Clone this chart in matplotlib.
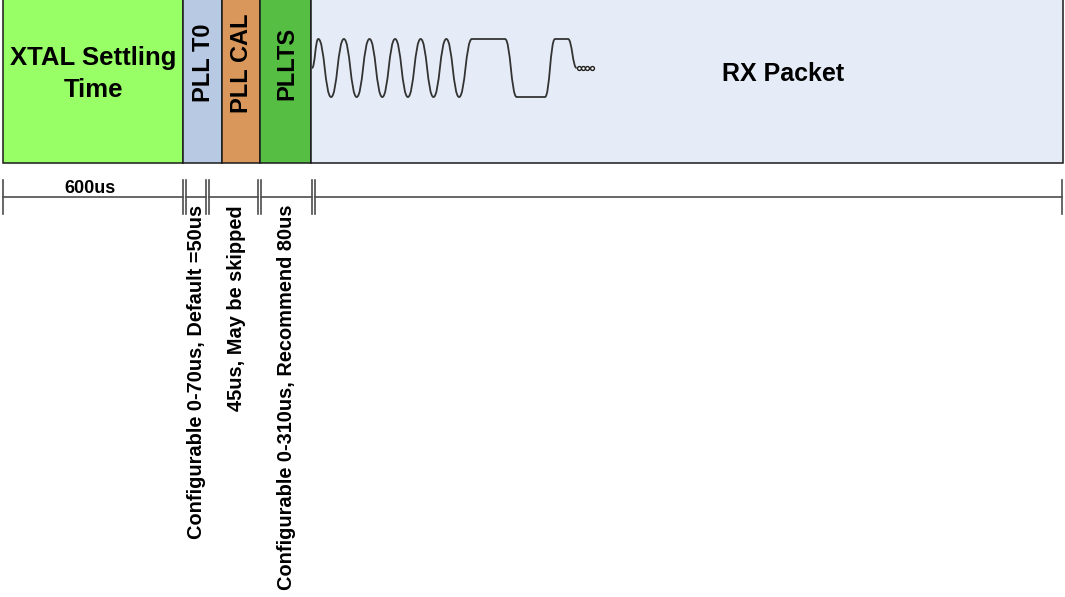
import matplotlib.pyplot as plt
from matplotlib.patches import Rectangle, PathPatch
from matplotlib.path import Path

plt.rcParams['font.family'] = ['Liberation Sans', 'DejaVu Sans']

# blocks of the RX sequence (x edges in diagram px)
labels = ["XTAL Settling\nTime", "PLL T0", "PLL CAL", "PLLTS", "RX Packet"]
edges = [3, 183, 222, 260, 311, 1063]
fills = ['#99FF66', '#B8CAE3', '#D9975B', '#56BF43', '#E6ECF7']
vertical = [False, True, True, True, False]

# dimension line marks
dim_single = [3, 1062]
dim_double = [183, 206, 258, 312]
dim_top_text = "600us"
notes = ["Configurable 0-70us, Default =50us",
         "45us, May be skipped",
         "Configurable 0-310us, Recommend 80us"]
note_x = [196, 236, 287]

# waveform corners: x position and level (+1 high, -1 low, 0 mid)
wave_x = [312, 318.3, 331.1, 343.9, 356.7, 369.5, 382.3, 395.1, 407.9, 420.7,
          433.5, 446.3, 459.1, 471.9, 505, 516.7, 545, 555, 568, 576.7]
wave_lv = [0, 1, -1, 1, -1, 1, -1, 1, -1, 1, -1, 1, -1, 1, 1, -1, -1, 1, 1, 0]
dots_x = [579, 583, 587, 591.5]

fig = plt.figure(figsize=(10.65, 5.97), dpi=100)
ax = fig.add_axes([0, 0, 1, 1])
ax.set_xlim(0, 1065)
ax.set_ylim(597, 0)
ax.axis('off')

top, bottom = -5, 163
for i, lab in enumerate(labels):
    x0, x1 = edges[i], edges[i + 1]
    ax.add_patch(Rectangle((x0, top), x1 - x0, bottom - top, facecolor=fills[i],
                           edgecolor='#1a1a1a', linewidth=1.1, zorder=1))
    if vertical[i]:
        ax.text((x0 + x1) / 2 + 1, 63, lab, rotation=90, ha='center', va='center',
                fontsize=17, fontweight='bold', zorder=3)
    elif i == 0:
        ax.text((x0 + x1) / 2, 74, lab, ha='center', va='center', fontsize=18.5,
                fontweight='bold', linespacing=1.45, zorder=3)
    else:
        ax.text(783, 74, lab, ha='center', va='center', fontsize=18,
                fontweight='bold', zorder=3)

# waveform as bezier path
mid, amp = 68, 29
verts = [(wave_x[0], mid - amp * wave_lv[0])]
codes = [Path.MOVETO]
for j in range(1, len(wave_x)):
    xa, xb = wave_x[j - 1], wave_x[j]
    ya, yb = mid - amp * wave_lv[j - 1], mid - amp * wave_lv[j]
    c = 0.47 * (xb - xa)
    verts += [(xa + c, ya), (xb - c, yb), (xb, yb)]
    codes += [Path.CURVE4] * 3
ax.add_patch(PathPatch(Path(verts, codes), facecolor='none', edgecolor='#333333',
                       linewidth=1.3, zorder=2))
ax.plot(dots_x, [mid] * len(dots_x), 'o', ms=2.8, mfc='white', mec='#222222',
        mew=1.0, zorder=3)

# dimension line
ly, t0, t1 = 197, 180, 214
gap = 3
segs = [dim_single[0]]
for d in dim_double:
    segs += [d, d + gap]
segs.append(dim_single[1])
for k in range(0, len(segs), 2):
    ax.plot([segs[k], segs[k + 1]], [ly, ly], color='#4d4d4d', lw=1.2)
for x in segs:
    ax.plot([x, x], [t0, t1], color='#4d4d4d', lw=1.2)

ax.text(90, 193, dim_top_text, ha='center', va='baseline',
        fontsize=13, fontweight='bold')
for x, t in zip(note_x, notes):
    ax.text(x, 205, t, rotation=90, ha='center', va='top', fontsize=14.4,
            fontweight='bold')

fig.savefig('out.png', dpi=100)
